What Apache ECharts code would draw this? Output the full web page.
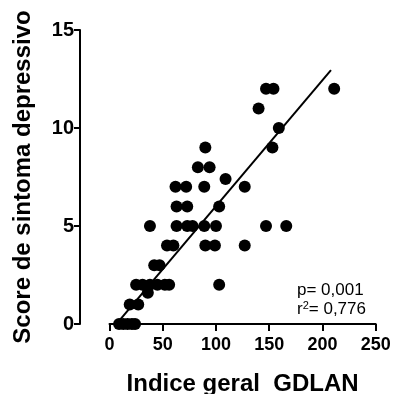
<!DOCTYPE html>
<html>
<head>
<meta charset="utf-8">
<script src="https://cdn.jsdelivr.net/npm/echarts@6/dist/echarts.min.js"></script>
<style>
	html, body { margin: 0; padding: 0; background: #fff; }
	#main { width: 395px; height: 394px; }
</style>
</head>
<body>
<div id="main"></div>
<script>
// GDLAN index vs depressive symptom score
const gdlan = [211, 147, 154, 140, 159, 153, 90, 83, 94, 109, 62, 72, 89, 127, 63, 73, 103,
	38, 63, 73, 78, 89, 100, 147, 166, 54, 60, 90, 99, 127, 42, 47,
	25, 31, 38, 45, 52, 56, 36, 103, 19, 27, 9, 13, 17, 21, 24];
const score = [12, 12, 12, 11, 10, 9, 9, 8, 8, 7.4, 7, 7, 7, 7, 6, 6, 6,
	5, 5, 5, 5, 5, 5, 5, 5, 4, 4, 4, 4, 4, 3, 3,
	2, 2, 2, 2, 2, 2, 1.6, 2, 1, 1, 0, 0, 0, 0, 0];
// fitted line end points
const fitX = [8, 208];
const fitY = [0.1, 12.95];
const xTicks = [0, 50, 100, 150, 200, 250];
const yTicks = [0, 5, 10, 15];
const pText = "p= 0,001";
const r2Text = "0,776";

var chart = echarts.init(document.getElementById("main"));
const font = "Liberation Sans";

var points = gdlan.map((x, i) => [x, score[i]]);
var fitLine = fitX.map((x, i) => [x, fitY[i]]);

var option = {
	animation: false,
	grid: { left: 109.5, right: 19.3, top: 30, bottom: 70, outerBoundsMode: "none" },
	xAxis: {
		type: "value",
		min: xTicks[0],
		max: xTicks[xTicks.length - 1],
		interval: 50,
		name: "Indice geral  GDLAN",
		nameLocation: "middle",
		nameGap: 48,
		nameTextStyle: { fontFamily: font, fontWeight: "bold", fontSize: 24, color: "#000" },
		axisLine: { onZero: false, lineStyle: { color: "#000", width: 2 } },
		axisTick: { length: 7, lineStyle: { color: "#000", width: 2 } },
		axisLabel: { fontFamily: font, fontWeight: "bold", fontSize: 18, color: "#000", margin: 12 },
		splitLine: { show: false },
	},
	yAxis: {
		type: "value",
		min: yTicks[0],
		max: yTicks[yTicks.length - 1],
		interval: 5,
		offset: 29.5,
		name: "Score de sintoma depressivo",
		nameLocation: "middle",
		nameRotate: 90,
		nameGap: 45,
		nameTextStyle: { fontFamily: font, fontWeight: "bold", fontSize: 24, color: "#000" },
		axisLine: { show: true, onZero: false, lineStyle: { color: "#000", width: 2 } },
		axisTick: { show: true, length: 6, lineStyle: { color: "#000", width: 2 } },
		axisLabel: { fontFamily: font, fontWeight: "bold", fontSize: 20, color: "#000", margin: 6 },
		splitLine: { show: false },
	},
	series: [
		{
			type: "line",
			data: fitLine,
			showSymbol: false,
			lineStyle: { color: "#000", width: 2 },
			z: 3,
		},
		{
			type: "scatter",
			data: points,
			symbolSize: 12,
			clip: false,
			itemStyle: { color: "#000", opacity: 1 },
			z: 4,
		},
	],
	graphic: [
		{
			type: "text",
			left: 297,
			top: 282,
			style: { text: pText, fontFamily: font, fontSize: 17, fill: "#000" },
		},
		{
			type: "text",
			left: 297,
			top: 300,
			style: {
				text: "{a|r}{s|2}{a|= " + r2Text + "}",
				rich: {
					a: { fontFamily: font, fontSize: 17, color: "#000" },
					s: { fontFamily: font, fontSize: 11, color: "#000", verticalAlign: "top", padding: [0, 0, 7, 0] },
				},
			},
		},
	],
};

option && chart.setOption(option);
</script>
</body>
</html>
